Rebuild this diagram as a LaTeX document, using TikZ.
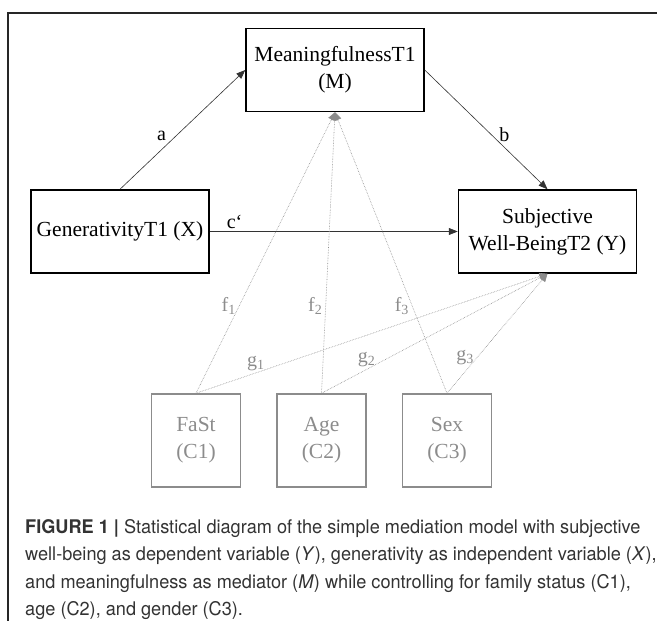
\documentclass[tikz,border=0pt]{standalone}
\usepackage{fontspec}
\setmainfont{Liberation Serif}
\newfontfamily\capfont[FakeStretch=0.965]{TeX Gyre Heros}
\usetikzlibrary{positioning}
\usetikzlibrary{arrows.meta}
\definecolor{ctrlgray}{gray}{0.55}
\definecolor{capgray}{gray}{0.2}
\tikzstyle{var}=[draw=black, line width=1.5pt, minimum width=178pt, minimum height=83pt, align=center, inner sep=2pt, font=\fontsize{21.5}{27}\selectfont]
\tikzstyle{ctrl}=[var, draw=ctrlgray, text=ctrlgray, minimum width=89pt, minimum height=93pt]
\tikzstyle{link}=[-{Triangle[length=9pt, width=7pt]}, draw=black!80, line width=0.6pt]
\tikzstyle{ctrllink}=[-{Triangle[length=8pt, width=7pt]}, draw=ctrlgray, densely dotted, line width=0.6pt]
\tikzstyle{coef}=[inner sep=1pt, font=\fontsize{20}{22}\selectfont]

\begin{document}
\begin{tikzpicture}[x=1pt, y=-1pt, node distance = 35pt]
    \useasboundingbox (0,0) rectangle (657,621);
    \draw[line width=1.4pt, black!85] (8,621) -- (8,13) -- (657,13);

    \node[var] (mean) at (335,70)    {MeaningfulnessT1\\(M)};
    \node[var] (gen)  at (120,231.5) {GenerativityT1 (X)};
    \node[var] (swb)  at (547.5,231.5) {Subjective\\Well-BeingT2 (Y)};

    \node[ctrl] (fast) at (196,440.5)          {FaSt\\(C1)};
    \node[ctrl] (age)  [right = of fast] {Age\\(C2)};
    \node[ctrl] (sex)  [right = of age]  {Sex\\(C3)};

    \draw[link] (gen.north) to node[coef, pos=0.45, left=9pt] {a} (mean.west);
    \draw[link] (mean.east) to node[coef, pos=0.54, right=7pt] {b} (swb.north);
    \draw[link] (gen.east)  to node[coef, pos=0.1, above=2pt] {c‘} (swb.west);

    \draw[ctrllink] (fast.north) to node[coef, text=ctrlgray, pos=0.31, left=2pt] {f\textsubscript{1}} (mean.south);
    \draw[ctrllink] (age.north)  to node[coef, text=ctrlgray, pos=0.31, left=2pt] {f\textsubscript{2}} (mean.south);
    \draw[ctrllink] (sex.north)  to node[coef, text=ctrlgray, pos=0.31, left=2pt] {f\textsubscript{3}} (mean.south);

    \draw[ctrllink] (fast.north) to node[coef, text=ctrlgray, pos=0.17, above=1pt] {g\textsubscript{1}} (swb.south);
    \draw[ctrllink] (age.north)  to node[coef, text=ctrlgray, pos=0.2, above=1pt] {g\textsubscript{2}} (swb.south);
    \draw[ctrllink] (sex.north)  to node[coef, text=ctrlgray, pos=0.3, left=2pt] {g\textsubscript{3}} (swb.south);

    \node[anchor=north west, inner sep=0pt, align=left, text=capgray, font=\capfont\fontsize{18.8}{27.5}\selectfont] (caption) at (25,519)
      {\textbf{FIGURE 1 |} Statistical diagram of the simple mediation model with subjective\\
       well-being as dependent variable (\textit{Y}), generativity as independent variable (\textit{X}),\\
       and meaningfulness as mediator (\textit{M}) while controlling for family status (C1),\\
       age (C2), and gender (C3).};
\end{tikzpicture}
\end{document}
